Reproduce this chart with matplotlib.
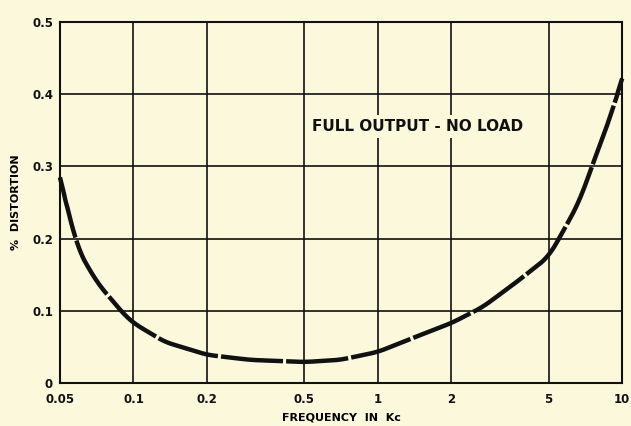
import numpy as np
import matplotlib
matplotlib.use("Agg")
import matplotlib.pyplot as plt
from matplotlib.ticker import FixedLocator, FixedFormatter, NullLocator

# frequency in Kc and % distortion
freq = [0.05, 0.059, 0.071, 0.092, 0.1, 0.134, 0.2, 0.30, 0.5, 0.7,
        1.0, 1.43, 2.0, 2.68, 3.7, 5.0, 5.56, 6.72, 7.6, 8.67, 10.0]
dist = [0.285, 0.186, 0.139, 0.094, 0.083, 0.057, 0.039, 0.032, 0.029, 0.032,
        0.043, 0.064, 0.083, 0.105, 0.140, 0.175, 0.202, 0.253, 0.305, 0.355, 0.422]

xticks = [0.05, 0.1, 0.2, 0.5, 1, 2, 5, 10]
xlabels = ["0.05", "0.1", "0.2", "0.5", "1", "2", "5", "10"]
yticks = [0, 0.1, 0.2, 0.3, 0.4, 0.5]
ylabels = ["0", "0.1", "0.2", "0.3", "0.4", "0.5"]

bg = "#fbf8dc"
fig = plt.figure(figsize=(6.31, 4.26), dpi=100, facecolor=bg)
ax = fig.add_axes([0.095, 0.101, 0.891, 0.847])
ax.set_facecolor(bg)

ax.set_xscale("log")
ax.set_xlim(0.05, 10)
ax.set_ylim(0, 0.5)

# smooth the read points in log-x before drawing
lx = np.log10(freq)
fine = np.linspace(lx[0], lx[-1], 300)
yfine = np.interp(fine, lx, dist)
k = np.ones(9) / 9
ypad = np.concatenate([np.full(4, yfine[0]), yfine, np.full(4, yfine[-1])])
ysm = np.convolve(ypad, k, mode="valid")
ysm[:3] = yfine[:3]
ysm[-3:] = yfine[-3:]
ax.plot(10 ** fine, ysm, color="#111111", lw=3.2, linestyle=(0, (14, 0.7)),
        solid_capstyle="round", zorder=3, clip_on=False)

ax.xaxis.set_major_locator(FixedLocator(xticks))
ax.xaxis.set_major_formatter(FixedFormatter(xlabels))
ax.xaxis.set_minor_locator(NullLocator())
ax.set_yticks(yticks)
ax.set_yticklabels(ylabels)
ax.tick_params(length=0, labelsize=8.5, colors="#111111")
ax.tick_params(axis="x", pad=7)
ax.tick_params(axis="y", pad=5)
for lab in ax.get_xticklabels() + ax.get_yticklabels():
    lab.set_fontweight("bold")

ax.grid(True, color="#111111", lw=1.2)
for s in ax.spines.values():
    s.set_linewidth(1.5)
    s.set_color("#111111")

ax.set_xlabel("FREQUENCY  IN  Kc", fontsize=8, fontweight="bold", labelpad=5)
ax.set_ylabel("%  DISTORTION", fontsize=8, fontweight="bold", labelpad=8)

ax.text(1.45, 0.355, "FULL OUTPUT - NO LOAD", fontsize=11, fontweight="bold",
        ha="center", va="center", color="#111111",
        bbox=dict(facecolor=bg, edgecolor="none", pad=3))

fig.savefig("out.png", dpi=100, facecolor=bg)
